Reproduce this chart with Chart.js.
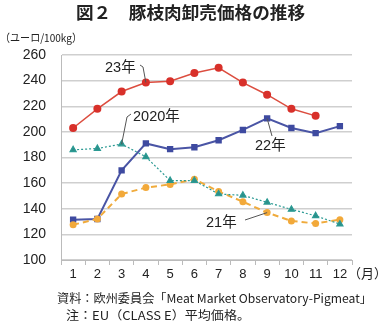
<!DOCTYPE html>
<html><head><meta charset="utf-8">
<script src="https://cdn.jsdelivr.net/npm/chart.js@4/dist/chart.umd.min.js"></script>
<style>html,body{margin:0;padding:0;background:#fff;}canvas{display:block;}</style>
</head><body>
<canvas id="c" width="380" height="327"></canvas>
<script>
const months = ['1','2','3','4','5','6','7','8','9','10','11','12'];
const y2023 = [203, 218, 231.5, 238.5, 239.5, 246, 250, 238.5, 229, 218, 212.5, null];
const y2022 = [131.5, 132, 170, 191, 186.5, 188, 193.5, 201.5, 210.5, 203, 199, 204.5];
const y2020 = [186, 187, 190.5, 180.5, 162, 162, 151.5, 150.5, 145, 139.5, 134.5, 128];
const y2021 = [127.5, 132, 151.5, 156.5, 159, 163, 153.5, 145.5, 137, 130.5, 128.5, 131.5];
const yTicks = [100, 120, 140, 160, 180, 200, 220, 240, 260];

const FONT = '"Liberation Sans", Arial, "Noto Sans CJK JP", sans-serif';
const JFONT = '"Noto Sans CJK JP", sans-serif';

function fitText(ctx, txt, x, y, w) {
  const m = ctx.measureText(txt).width;
  ctx.save();
  ctx.translate(x, y);
  ctx.scale(w / m, 1);
  ctx.fillText(txt, 0, 0);
  ctx.restore();
}

const textPlugin = {
  id: 'texts',
  afterDraw(chart) {
    const ctx = chart.ctx;
    const xs = chart.scales.x, ys = chart.scales.y;
    const P = (i, v) => [xs.getPixelForValue(i), ys.getPixelForValue(v)];
    ctx.save();
    ctx.fillStyle = '#222';
    ctx.textBaseline = 'middle';
    ctx.textAlign = 'left';
    // title
    ctx.font = 'bold 17px ' + JFONT;
    fitText(ctx, '図２　豚枝肉卸売価格の推移', 76, 13, 229);
    // unit
    ctx.font = '11px ' + JFONT;
    fitText(ctx, '（ユーロ/100kg）', 0, 38, 82);
    // month unit
    ctx.font = '13px ' + JFONT;
    ctx.fillText('（月）', 348, 273);
    // footer
    ctx.font = '12px ' + JFONT;
    fitText(ctx, '資料：欧州委員会「Meat Market Observatory-Pigmeat」', 57, 298, 315);
    fitText(ctx, '注：EU（CLASS E）平均価格。', 66, 315, 184);
    // annotations
    ctx.font = '14.5px ' + FONT;
    ctx.fillStyle = '#222';
    ctx.fillText('23年', 105, 68);
    ctx.fillText('2020年', 133, 117);
    ctx.fillText('22年', 255, 146);
    ctx.fillText('21年', 206, 223);
    ctx.strokeStyle = '#555';
    ctx.lineWidth = 1;
    const lead = (x1, y1, p) => { ctx.beginPath(); ctx.moveTo(x1, y1); ctx.lineTo(p[0], p[1]); ctx.stroke(); };
    let p4 = P(3, y2023[3]);
    ctx.beginPath(); ctx.moveTo(140, 65); ctx.lineTo(143, 67); ctx.lineTo(p4[0], p4[1]); ctx.stroke();
    let p3 = P(2, y2020[2]);
    ctx.beginPath(); ctx.moveTo(131, 114); ctx.lineTo(127, 117); ctx.lineTo(p3[0], p3[1]); ctx.stroke();
    let p9 = P(8, y2022[8]);
    lead(272, 136, p9);
    let q9 = P(8, y2021[8]);
    lead(245, 220, q9);
    ctx.restore();
  }
};

new Chart(document.getElementById('c'), {
  type: 'line',
  data: {
    labels: months,
    datasets: [
      { label: '2020年', data: y2020, borderColor: '#2b9a93', backgroundColor: '#2b8f8a', borderWidth: 1.2, borderDash: [2, 2], pointStyle: 'triangle', pointRadius: 3.5, tension: 0 },
      { label: '21年', data: y2021, borderColor: '#f0ab3c', backgroundColor: '#f2a93a', borderWidth: 2, borderDash: [6, 4], pointStyle: 'circle', pointRadius: 3.5, pointBorderWidth: 0, tension: 0 },
      { label: '22年', data: y2022, borderColor: '#4a55a5', backgroundColor: '#3e4aa0', borderWidth: 2, pointStyle: 'rect', pointRadius: 4.5, pointBorderWidth: 0, tension: 0 },
      { label: '23年', data: y2023, borderColor: '#dc4d3f', backgroundColor: '#d8302a', borderWidth: 1.5, pointStyle: 'circle', pointRadius: 4, pointBorderWidth: 0, tension: 0, spanGaps: false }
    ]
  },
  options: {
    responsive: false,
    animation: false,
    devicePixelRatio: 1,
    layout: { padding: { left: 0, right: 28, top: 55, bottom: 0 } },
    plugins: { legend: { display: false }, tooltip: { enabled: false }, title: { display: false } },
    scales: {
      x: {
        offset: true,
        grid: { display: true, drawOnChartArea: false, offset: true, color: '#bbb', tickLength: 5 },
        border: { color: '#bbb' },
        ticks: { color: '#222', font: { family: FONT, size: 13 }, padding: 2, maxRotation: 0 },
        afterFit(s) { s.height = 67; }
      },
      y: {
        min: 100, max: 260,
        afterBuildTicks(s) { s.ticks = yTicks.map(v => ({ value: v })); },
        grid: { color: '#cfcfcf', lineWidth: 1.5, tickLength: 4, drawTicks: false },
        border: { color: '#bbb' },
        ticks: { color: '#222', font: { family: FONT, size: 14 }, padding: 15 },
        afterFit(s) { s.width = 61; }
      }
    }
  },
  plugins: [textPlugin]
});
</script>
</body></html>
